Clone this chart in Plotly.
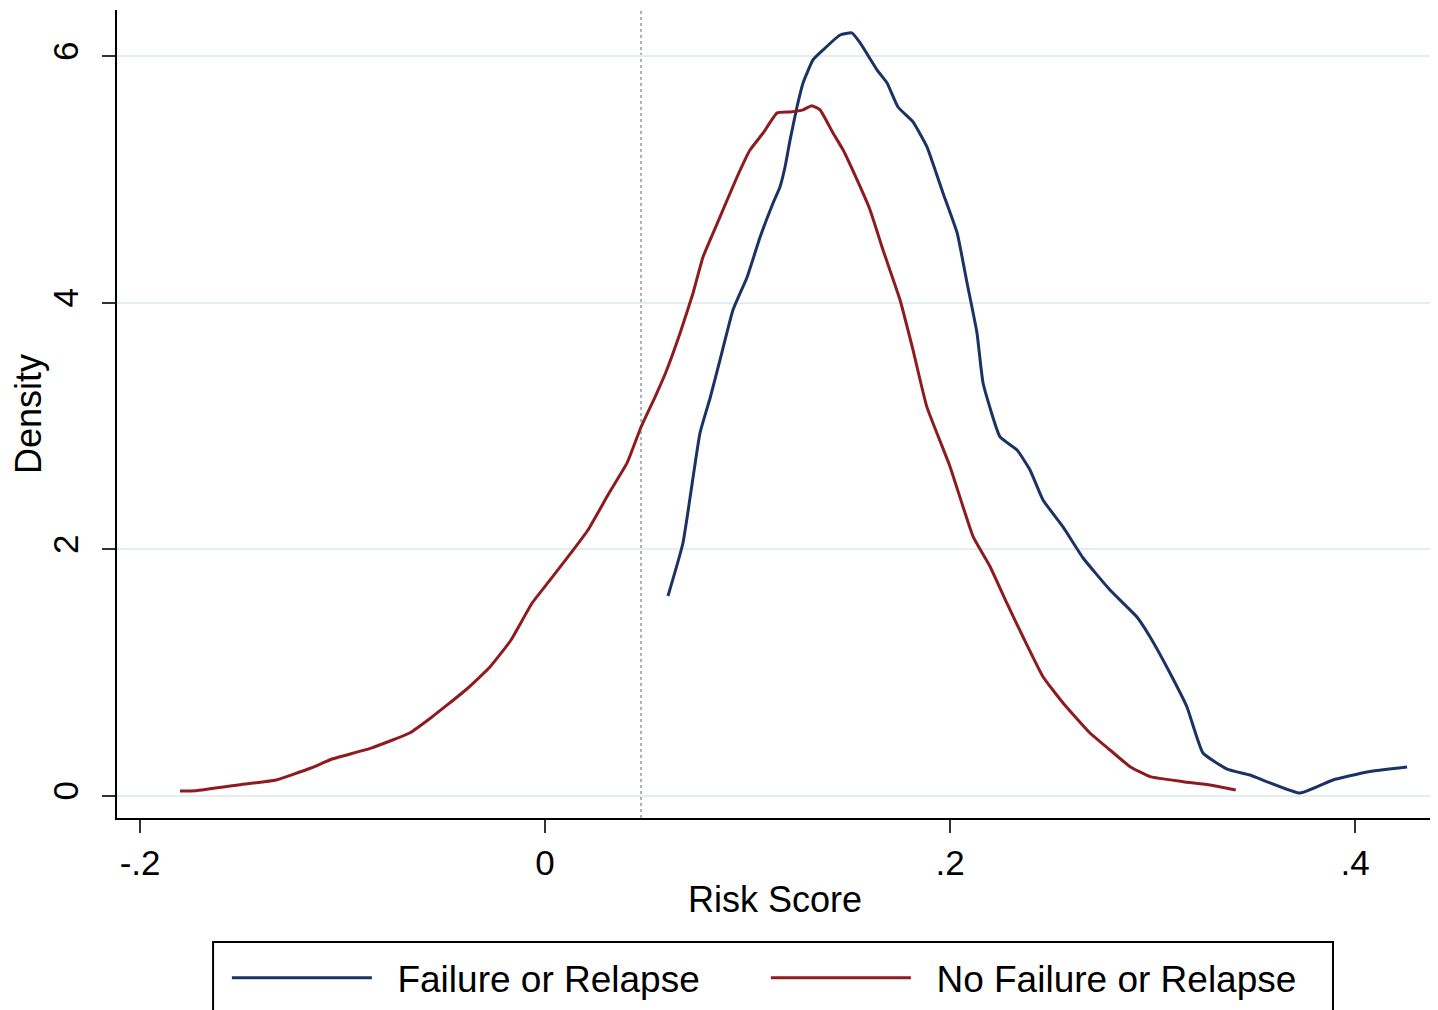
import plotly.graph_objects as go

# Failure or Relapse (blue)
fail_x = [0.0607, 0.0681, 0.0765, 0.0815, 0.0864, 0.0928, 0.0998, 0.1062, 0.1126, 0.1160,
          0.1185, 0.1210, 0.1244, 0.1274, 0.1323, 0.1373, 0.1457, 0.1515, 0.1556, 0.1640,
          0.1689, 0.1743, 0.1817, 0.1886, 0.1965, 0.2035, 0.2084, 0.2133, 0.2163, 0.2247,
          0.2331, 0.2395, 0.2459, 0.2558, 0.2657, 0.2790, 0.2923, 0.2988, 0.3086, 0.3170,
          0.3249, 0.3368, 0.3481, 0.3728, 0.3891, 0.4059, 0.4257]
fail_y = [1.623, 2.053, 2.945, 3.229, 3.538, 3.943, 4.211, 4.535, 4.811, 4.941,
          5.103, 5.323, 5.590, 5.785, 5.972, 6.053, 6.174, 6.191, 6.110, 5.890,
          5.785, 5.590, 5.469, 5.266, 4.892, 4.568, 4.162, 3.757, 3.351, 2.913,
          2.807, 2.645, 2.402, 2.183, 1.931, 1.671, 1.452, 1.290, 0.998, 0.722,
          0.349, 0.219, 0.170, 0.024, 0.130, 0.195, 0.235]

# No Failure or Relapse (red)
nofail_x = [-0.1803, -0.1725, -0.1518, -0.1328, -0.1156, -0.1052, -0.0859, -0.0669, -0.0565, -0.0392,
            -0.0272, -0.0168, -0.0064, 0.0025, 0.0128, 0.0212, 0.0316, 0.0405, 0.0474, 0.0543,
            0.0595, 0.0667, 0.0731, 0.0780, 0.0864, 0.0948, 0.1012, 0.1077, 0.1146, 0.1210,
            0.1274, 0.1317, 0.1358, 0.1422, 0.1472, 0.1541, 0.1605, 0.1669, 0.1753, 0.1817,
            0.1885, 0.2000, 0.2114, 0.2198, 0.2280, 0.2360, 0.2459, 0.2558, 0.2691, 0.2790,
            0.2889, 0.2988, 0.3151, 0.3284, 0.3411]
nofail_y = [0.041, 0.043, 0.089, 0.130, 0.227, 0.300, 0.389, 0.511, 0.633, 0.860,
            1.047, 1.266, 1.566, 1.753, 1.972, 2.158, 2.458, 2.702, 2.994, 3.237,
            3.432, 3.757, 4.081, 4.373, 4.698, 5.022, 5.241, 5.379, 5.542, 5.550,
            5.567, 5.600, 5.567, 5.379, 5.241, 4.998, 4.755, 4.430, 4.024, 3.619,
            3.159, 2.672, 2.104, 1.860, 1.566, 1.292, 0.968, 0.755, 0.511, 0.373,
            0.238, 0.157, 0.116, 0.089, 0.049]

cutoff = 0.0474

x_tickvals = [-0.2, 0, 0.2, 0.4]
x_ticktext = ["-.2", "0", ".2", ".4"]
y_tickvals = [0, 2, 4, 6]
y_ticktext = ["0", "2", "4", "6"]

FONT = "Liberation Sans, Arial, sans-serif"
BLUE = "#1b3264"
RED = "#8e1b1f"

fig = go.Figure()
fig.add_trace(go.Scatter(x=fail_x, y=fail_y, mode="lines", name="\u00a0\u00a0Failure or Relapse",
                         line=dict(color=BLUE, width=3, shape="spline", smoothing=0.4)))
fig.add_trace(go.Scatter(x=nofail_x, y=nofail_y, mode="lines", name="\u00a0\u00a0No Failure or Relapse",
                         line=dict(color=RED, width=3, shape="spline", smoothing=0.4)))

# vertical reference line
fig.add_shape(type="line", x0=cutoff, x1=cutoff, y0=0, y1=1, xref="x", yref="paper",
              line=dict(color="#b0b0b0", width=2, dash="dot"), layer="below")

# legend frame (extends past the bottom edge, as in the original)
fig.add_shape(type="rect", xref="paper", yref="paper",
              x0=0.0730, x1=0.9240, y0=-0.1535, y1=-0.275,
              line=dict(color="black", width=2), fillcolor="rgba(0,0,0,0)", layer="above")

fig.update_layout(
    width=1430, height=1002,
    margin=dict(l=109, r=5, t=2, b=192, autoexpand=False),
    paper_bgcolor="white", plot_bgcolor="white",
    font=dict(family=FONT, size=35, color="black"),
    showlegend=True,
    legend=dict(orientation="h", x=0.0835, xanchor="left", y=-0.160, yanchor="top",
                borderwidth=0, bgcolor="rgba(0,0,0,0)",
                itemwidth=140, entrywidth=384, entrywidthmode="pixels",
                font=dict(family=FONT, size=37, color="black"),
                traceorder="normal"),
    xaxis=dict(range=[-0.2114, 0.4385], tickvals=x_tickvals, ticktext=x_ticktext,
               showgrid=False, zeroline=False, showline=True, linecolor="black", linewidth=2,
               ticks="outside", ticklen=13, tickwidth=2, tickcolor="#333333",
               tickfont=dict(size=35),
               title=dict(text="Risk Score", font=dict(size=36), standoff=6)),
    yaxis=dict(range=[-0.1785, 6.377], tickvals=y_tickvals, ticktext=y_ticktext,
               showgrid=True, gridcolor="#e3eef0", gridwidth=2, zeroline=False,
               showline=True, linecolor="black", linewidth=2,
               ticks="outside", ticklen=13, tickwidth=2, tickcolor="#333333",
               tickangle=-90, tickfont=dict(size=35), ticklabelstandoff=10,
               title=dict(text="Density", font=dict(size=36), standoff=0)),
)

fig.write_html("out.html")
